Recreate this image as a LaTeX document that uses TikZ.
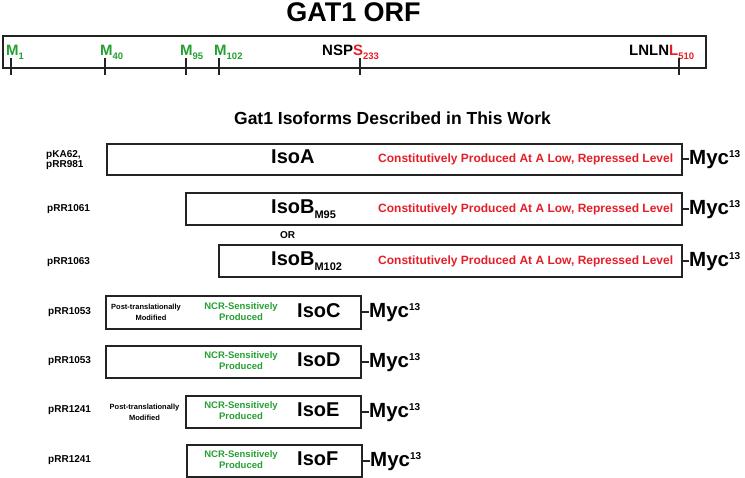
\documentclass[tikz,border=0pt]{standalone}
\usepackage{fontspec}
\setmainfont{Liberation Sans}
\definecolor{ggreen}{RGB}{35,160,50}
\definecolor{rred}{RGB}{230,30,40}
\definecolor{dk}{RGB}{35,35,35}
\begin{document}
\begin{tikzpicture}[x=1pt,y=-1pt,
  bar/.style={draw=dk, line width=2pt, inner sep=0pt, anchor=north west},
  tickmark/.style={draw=dk, line width=1.3pt},
  conn/.style={draw=dk, line width=2pt},
  site/.style={inner sep=0pt, anchor=base west, font=\bfseries\fontsize{15}{18}\selectfont},
  plab/.style={inner sep=0pt, anchor=west, align=left, font=\bfseries\fontsize{10}{10}\selectfont},
  iso/.style={inner sep=0pt, anchor=base west, font=\bfseries\fontsize{20}{24}\selectfont},
  redtxt/.style={inner sep=0pt, anchor=base west, text=rred, font=\bfseries\fontsize{12}{14}\selectfont},
  myc/.style={inner sep=0pt, anchor=base west, font=\bfseries\fontsize{20.5}{24}\selectfont},
  ncr/.style={inner sep=0pt, align=center, text=ggreen, font=\bfseries\fontsize{9.5}{11}\selectfont},
  ptm/.style={inner sep=0pt, align=center, font=\bfseries\fontsize{7.5}{11}\selectfont}
]
\useasboundingbox (0,0) rectangle (745,478);
\newcommand{\sbs}[1]{\raisebox{-4pt}{\fontsize{9.5}{11}\selectfont #1}}
\newcommand{\isub}[1]{\raisebox{-5pt}{\fontsize{11}{12}\selectfont #1}}
\newcommand{\mycsup}{Myc\raisebox{7.3pt}{\fontsize{10}{12}\selectfont 13}}

% title and ORF bar
\node[inner sep=0pt, anchor=base, font=\bfseries\fontsize{27}{30}\selectfont] (title) at (353.5,22) {GAT1 ORF};
\node[bar, minimum width=703pt, minimum height=32pt] (orf) at (2,35) {};

\node[site, text=ggreen] (m1) at (6,56) {M\sbs{1}};
\node[site, text=ggreen] (m40) at (100,56) {M\sbs{40}};
\node[site, text=ggreen] (m95) at (180,56) {M\sbs{95}};
\node[site, text=ggreen] (m102) at (214,56) {M\sbs{102}};
\node[site] (s233) at (322,56) {NSP\textcolor{rred}{S\sbs{233}}};
\node[site] (l510) at (629,56) {LNLN\textcolor{rred}{L\sbs{510}}};

\foreach \x in {11,105,186,219,360,679}{
  \draw[tickmark] (\x,58) -- (\x,75);
}

% subtitle
\node[inner sep=0pt, anchor=base, font=\bfseries\fontsize{17.5}{20}\selectfont] (sub) at (392.5,125) {Gat1 Isoforms Described in This Work};

% plasmid labels
\node[plab] (pA) at (46,160) {pKA62,\\pRR981};
\node[plab] (pB1) at (47,209) {pRR1061};
\node[plab] (pB2) at (47,262) {pRR1063};
\node[plab] (pC) at (48,312) {pRR1053};
\node[plab] (pD) at (48,361) {pRR1053};
\node[plab] (pE) at (48,410) {pRR1241};
\node[plab] (pF) at (48,460) {pRR1241};

% boxes
\node[bar, minimum width=575pt, minimum height=31pt] (boxA) at (106,143) {};
\node[bar, minimum width=496pt, minimum height=32pt] (boxB1) at (185,192) {};
\node[bar, minimum width=463pt, minimum height=32pt] (boxB2) at (218,244) {};
\node[bar, minimum width=255pt, minimum height=33pt] (boxC) at (105,295) {};
\node[bar, minimum width=255pt, minimum height=32pt] (boxD) at (105,345) {};
\node[bar, minimum width=175pt, minimum height=32pt] (boxE) at (185,395) {};
\node[bar, minimum width=175pt, minimum height=32pt] (boxF) at (186,444) {};

% isoform names
\node[iso] (isoA) at (271,164) {IsoA};
\node[iso] (isoB1) at (271,214) {IsoB\isub{M95}};
\node[iso] (isoB2) at (271,266) {IsoB\isub{M102}};
\node[iso] (isoC) at (297,318) {IsoC};
\node[iso] (isoD) at (297,367) {IsoD};
\node[iso] (isoE) at (297,417) {IsoE};
\node[iso] (isoF) at (297,466) {IsoF};

\node[inner sep=0pt, font=\bfseries\fontsize{10}{12}\selectfont] (or) at (287.5,235) {OR};

% red descriptions
\node[redtxt] (rA) at (378,163) {Constitutively Produced At A Low, Repressed Level};
\node[redtxt] (rB1) at (378,212.5) {Constitutively Produced At A Low, Repressed Level};
\node[redtxt] (rB2) at (378,264.5) {Constitutively Produced At A Low, Repressed Level};

% green descriptions
\node[ncr] (nC) at (241,311.5) {NCR-Sensitively\\Produced};
\node[ncr] (nD) at (241,361) {NCR-Sensitively\\Produced};
\node[ncr] (nE) at (241,411) {NCR-Sensitively\\Produced};
\node[ncr] (nF) at (241,460) {NCR-Sensitively\\Produced};

% post-translational notes
\node[ptm] (ptC) at (146,312.5) {Post-translationally\\\hspace*{10pt}Modified};
\node[ptm] (ptE) at (144.5,412.5) {Post-translationally\\Modified};

% Myc tags
\node[myc] (mA) at (689,165) {\mycsup};
\node[myc] (mB1) at (689,214.5) {\mycsup};
\node[myc] (mB2) at (689,266.5) {\mycsup};
\node[myc] (mC) at (369,318) {\mycsup};
\node[myc] (mD) at (369,367.5) {\mycsup};
\node[myc] (mE) at (369,417.5) {\mycsup};
\node[myc] (mF) at (370,466.5) {\mycsup};

\foreach \b/\m in {boxA/mA, boxB1/mB1, boxB2/mB2, boxC/mC, boxD/mD, boxE/mE, boxF/mF}{
  \draw[conn] (\b.east) -- (\b.east -| \m.west);
}
\end{tikzpicture}
\end{document}
